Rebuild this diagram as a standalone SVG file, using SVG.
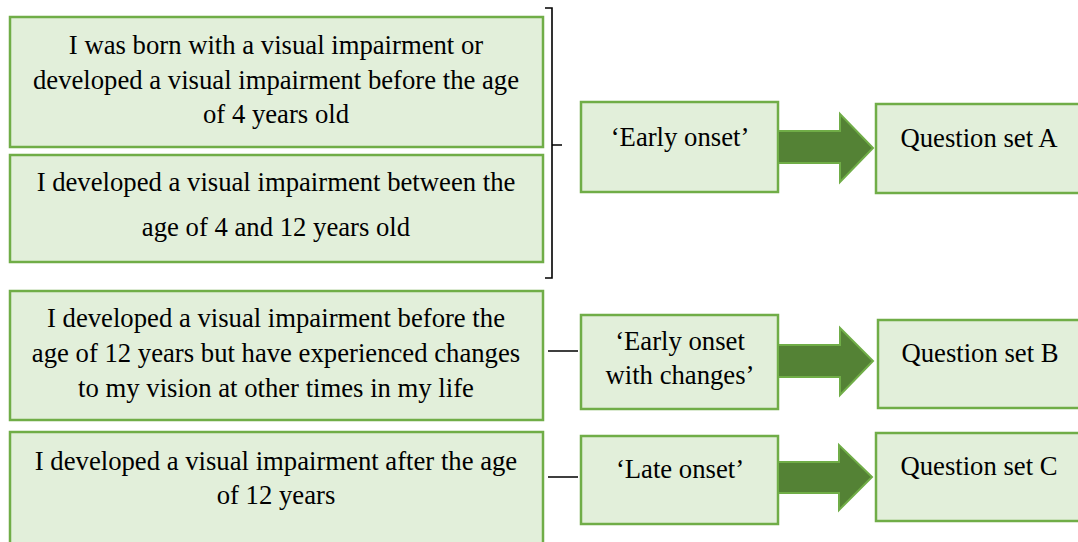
<svg xmlns="http://www.w3.org/2000/svg" width="1078" height="542" viewBox="0 0 1078 542">
<rect width="1078" height="542" fill="#ffffff"/>
<g font-family="Liberation Serif, serif" font-size="26.7" text-anchor="middle" fill="#000000">
<g id="n1"><rect x="10" y="17" width="533" height="130" fill="#e2efda" stroke="#70ad47" stroke-width="2.5"/>
<text x="276" y="54">I was born with a visual impairment or</text>
<text x="276" y="89">developed a visual impairment before the age</text>
<text x="276" y="123">of 4 years old</text></g>
<g id="n2"><rect x="10" y="155" width="533" height="107" fill="#e2efda" stroke="#70ad47" stroke-width="2.5"/>
<text x="276" y="191">I developed a visual impairment between the</text>
<text x="276" y="236">age of 4 and 12 years old</text></g>
<g id="n3"><rect x="10" y="291" width="533" height="129" fill="#e2efda" stroke="#70ad47" stroke-width="2.5"/>
<text x="276" y="327">I developed a visual impairment before the</text>
<text x="276" y="362">age of 12 years but have experienced changes</text>
<text x="276" y="397">to my vision at other times in my life</text></g>
<g id="n4"><rect x="10" y="432" width="533" height="120" fill="#e2efda" stroke="#70ad47" stroke-width="2.5"/>
<text x="276" y="470">I developed a visual impairment after the age</text>
<text x="276" y="504">of 12 years</text></g>
<g id="c1"><rect x="581" y="102" width="197" height="90" fill="#e2efda" stroke="#70ad47" stroke-width="2.5"/>
<text x="680" y="146">&#8216;Early onset&#8217;</text></g>
<g id="c2"><rect x="581" y="315" width="197" height="94" fill="#e2efda" stroke="#70ad47" stroke-width="2.5"/>
<text x="680" y="350">&#8216;Early onset</text>
<text x="680" y="384">with changes&#8217;</text></g>
<g id="c3"><rect x="581" y="436" width="197" height="88" fill="#e2efda" stroke="#70ad47" stroke-width="2.5"/>
<text x="680" y="478">&#8216;Late onset&#8217;</text></g>
<g id="qa"><rect x="876" y="104" width="206" height="89" fill="#e2efda" stroke="#70ad47" stroke-width="2.5"/>
<text x="979" y="147">Question set A</text></g>
<g id="qb"><rect x="878" y="320" width="204" height="88" fill="#e2efda" stroke="#70ad47" stroke-width="2.5"/>
<text x="980" y="362">Question set B</text></g>
<g id="qc"><rect x="876" y="433" width="206" height="88" fill="#e2efda" stroke="#70ad47" stroke-width="2.5"/>
<text x="979" y="475">Question set C</text></g>
</g>
<g id="connectors">
<path d="M545,8 H552 V278 H545 M552,145 H562 M548,351 H578 M548,477 H578" fill="none" stroke="#000000" stroke-width="1.6"/>
<g fill="#548235" stroke="#70ad47" stroke-width="2">
<polygon points="778,131 840,131 840,114 873,148 840,182 840,163 778,163"/>
<polygon points="778,345 840,345 840,328 873,361 840,395 840,377 778,377"/>
<polygon points="778,462 839,462 839,445 872,477 839,510 839,493 778,493"/>
</g>
</g>
</svg>
